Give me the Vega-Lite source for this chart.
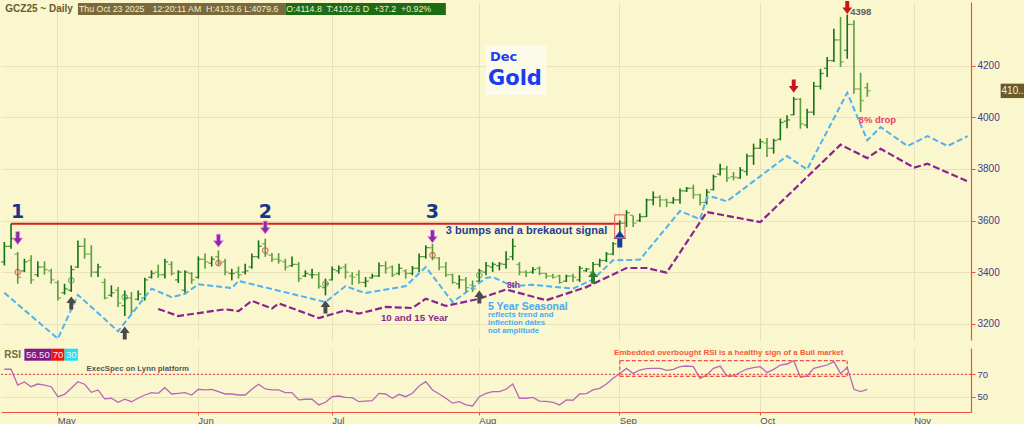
{
"$schema": "https://vega.github.io/schema/vega-lite/v6.json",
"background": "#faf6cd",
"padding": 0,
"spacing": 5,
"config": {"view": {"stroke": null}, "axis": {"labelFont": "Liberation Sans", "gridColor": "#e9e2ba"}},
"resolve": {"scale": {"x": "shared"}},
"datasets": {
"bars": [
{"d":"2025-04-21","o":3440,"h":3517,"l":3426,"c":3500,"rsi":74.5},
{"d":"2025-04-22","o":3500,"h":3588,"l":3491,"c":3530,"rsi":74.5},
{"d":"2025-04-23","o":3470,"h":3478,"l":3355,"c":3380,"rsi":60.4},
{"d":"2025-04-24","o":3405,"h":3452,"l":3400,"c":3440,"rsi":63.1},
{"d":"2025-04-25","o":3445,"h":3465,"l":3355,"c":3370,"rsi":58.9},
{"d":"2025-04-28","o":3390,"h":3442,"l":3381,"c":3420,"rsi":61.3},
{"d":"2025-04-29","o":3420,"h":3442,"l":3390,"c":3410,"rsi":60.4},
{"d":"2025-04-30","o":3405,"h":3413,"l":3355,"c":3370,"rsi":58.9},
{"d":"2025-05-01","o":3360,"h":3368,"l":3290,"c":3300,"rsi":50},
{"d":"2025-05-02","o":3320,"h":3355,"l":3313,"c":3335,"rsi":52.1},
{"d":"2025-05-05","o":3330,"h":3426,"l":3323,"c":3410,"rsi":57.5},
{"d":"2025-05-06","o":3420,"h":3523,"l":3416,"c":3500,"rsi":63.4},
{"d":"2025-05-07","o":3500,"h":3532,"l":3452,"c":3470,"rsi":61.1},
{"d":"2025-05-08","o":3470,"h":3504,"l":3381,"c":3400,"rsi":53.9},
{"d":"2025-05-09","o":3400,"h":3433,"l":3381,"c":3420,"rsi":56},
{"d":"2025-05-12","o":3360,"h":3375,"l":3295,"c":3300,"rsi":48},
{"d":"2025-05-13","o":3310,"h":3349,"l":3304,"c":3320,"rsi":48.6},
{"d":"2025-05-14","o":3330,"h":3342,"l":3265,"c":3280,"rsi":45},
{"d":"2025-05-15","o":3270,"h":3329,"l":3230,"c":3300,"rsi":47.7},
{"d":"2025-05-16","o":3300,"h":3323,"l":3239,"c":3250,"rsi":45.5},
{"d":"2025-05-19","o":3295,"h":3329,"l":3290,"c":3315,"rsi":48.6},
{"d":"2025-05-20","o":3300,"h":3378,"l":3290,"c":3370,"rsi":51.5},
{"d":"2025-05-21","o":3380,"h":3407,"l":3375,"c":3395,"rsi":53.6},
{"d":"2025-05-22","o":3400,"h":3429,"l":3378,"c":3390,"rsi":53},
{"d":"2025-05-23","o":3390,"h":3452,"l":3375,"c":3440,"rsi":58},
{"d":"2025-05-27","o":3430,"h":3442,"l":3387,"c":3395,"rsi":52.4},
{"d":"2025-05-28","o":3370,"h":3407,"l":3358,"c":3400,"rsi":53},
{"d":"2025-05-29","o":3330,"h":3407,"l":3319,"c":3400,"rsi":53.6},
{"d":"2025-05-30","o":3395,"h":3400,"l":3355,"c":3370,"rsi":51.5},
{"d":"2025-06-02","o":3380,"h":3461,"l":3375,"c":3450,"rsi":56.6},
{"d":"2025-06-03","o":3450,"h":3472,"l":3413,"c":3440,"rsi":56},
{"d":"2025-06-04","o":3435,"h":3461,"l":3422,"c":3450,"rsi":56.6},
{"d":"2025-06-05","o":3460,"h":3484,"l":3426,"c":3435,"rsi":54.5},
{"d":"2025-06-06","o":3440,"h":3452,"l":3388,"c":3400,"rsi":52.4},
{"d":"2025-06-09","o":3395,"h":3413,"l":3368,"c":3395,"rsi":52.4},
{"d":"2025-06-10","o":3400,"h":3422,"l":3375,"c":3390,"rsi":51.5},
{"d":"2025-06-11","o":3400,"h":3433,"l":3391,"c":3405,"rsi":51.5},
{"d":"2025-06-12","o":3420,"h":3472,"l":3413,"c":3460,"rsi":56.6},
{"d":"2025-06-13","o":3460,"h":3523,"l":3452,"c":3500,"rsi":61.1},
{"d":"2025-06-16","o":3510,"h":3530,"l":3459,"c":3470,"rsi":56.9},
{"d":"2025-06-17","o":3465,"h":3474,"l":3439,"c":3450,"rsi":56},
{"d":"2025-06-18","o":3450,"h":3474,"l":3433,"c":3445,"rsi":56},
{"d":"2025-06-20","o":3440,"h":3452,"l":3407,"c":3420,"rsi":53.6},
{"d":"2025-06-23","o":3425,"h":3461,"l":3420,"c":3430,"rsi":53.6},
{"d":"2025-06-24","o":3430,"h":3439,"l":3362,"c":3375,"rsi":47.1},
{"d":"2025-06-25","o":3385,"h":3407,"l":3381,"c":3395,"rsi":47.7},
{"d":"2025-06-26","o":3390,"h":3413,"l":3375,"c":3390,"rsi":47.7},
{"d":"2025-06-27","o":3390,"h":3400,"l":3336,"c":3345,"rsi":42.6},
{"d":"2025-06-30","o":3340,"h":3375,"l":3310,"c":3355,"rsi":45},
{"d":"2025-07-01","o":3370,"h":3422,"l":3368,"c":3410,"rsi":50},
{"d":"2025-07-02","o":3405,"h":3426,"l":3394,"c":3415,"rsi":50.6},
{"d":"2025-07-03","o":3420,"h":3433,"l":3375,"c":3400,"rsi":49.4},
{"d":"2025-07-07","o":3385,"h":3400,"l":3350,"c":3380,"rsi":49.1},
{"d":"2025-07-08","o":3390,"h":3407,"l":3355,"c":3360,"rsi":45.5},
{"d":"2025-07-09","o":3360,"h":3381,"l":3342,"c":3365,"rsi":46.1},
{"d":"2025-07-10","o":3378,"h":3394,"l":3375,"c":3385,"rsi":46.4},
{"d":"2025-07-11","o":3385,"h":3437,"l":3381,"c":3425,"rsi":53},
{"d":"2025-07-14","o":3425,"h":3442,"l":3394,"c":3415,"rsi":52.4},
{"d":"2025-07-15","o":3420,"h":3426,"l":3381,"c":3390,"rsi":48.6},
{"d":"2025-07-16","o":3395,"h":3433,"l":3388,"c":3415,"rsi":52.1},
{"d":"2025-07-17","o":3405,"h":3411,"l":3375,"c":3395,"rsi":50},
{"d":"2025-07-18","o":3395,"h":3424,"l":3388,"c":3415,"rsi":53},
{"d":"2025-07-21","o":3415,"h":3472,"l":3401,"c":3460,"rsi":59.5},
{"d":"2025-07-22","o":3460,"h":3504,"l":3452,"c":3495,"rsi":63.4},
{"d":"2025-07-23","o":3495,"h":3510,"l":3446,"c":3455,"rsi":56},
{"d":"2025-07-24","o":3455,"h":3459,"l":3407,"c":3420,"rsi":52.4},
{"d":"2025-07-25","o":3420,"h":3439,"l":3381,"c":3390,"rsi":48.6},
{"d":"2025-07-28","o":3390,"h":3394,"l":3355,"c":3360,"rsi":44.2},
{"d":"2025-07-29","o":3355,"h":3388,"l":3336,"c":3370,"rsi":45.5},
{"d":"2025-07-30","o":3370,"h":3381,"l":3323,"c":3340,"rsi":42.6},
{"d":"2025-07-31","o":3350,"h":3368,"l":3323,"c":3335,"rsi":41.7},
{"d":"2025-08-01","o":3365,"h":3413,"l":3362,"c":3405,"rsi":50},
{"d":"2025-08-04","o":3400,"h":3439,"l":3388,"c":3425,"rsi":53},
{"d":"2025-08-05","o":3420,"h":3439,"l":3401,"c":3430,"rsi":54.5},
{"d":"2025-08-06","o":3425,"h":3439,"l":3407,"c":3432,"rsi":54.5},
{"d":"2025-08-07","o":3430,"h":3481,"l":3413,"c":3450,"rsi":56.6},
{"d":"2025-08-08","o":3460,"h":3530,"l":3446,"c":3500,"rsi":61.3},
{"d":"2025-08-11","o":3430,"h":3439,"l":3388,"c":3400,"rsi":48.6},
{"d":"2025-08-12","o":3400,"h":3407,"l":3381,"c":3398,"rsi":48.6},
{"d":"2025-08-13","o":3400,"h":3420,"l":3394,"c":3410,"rsi":49.4},
{"d":"2025-08-14","o":3415,"h":3422,"l":3388,"c":3395,"rsi":46.1},
{"d":"2025-08-15","o":3395,"h":3397,"l":3375,"c":3385,"rsi":45.8},
{"d":"2025-08-18","o":3385,"h":3394,"l":3375,"c":3380,"rsi":45},
{"d":"2025-08-19","o":3385,"h":3390,"l":3355,"c":3360,"rsi":42.6},
{"d":"2025-08-20","o":3365,"h":3390,"l":3362,"c":3385,"rsi":47.1},
{"d":"2025-08-21","o":3385,"h":3394,"l":3362,"c":3380,"rsi":46.8},
{"d":"2025-08-22","o":3370,"h":3424,"l":3362,"c":3415,"rsi":52.4},
{"d":"2025-08-25","o":3405,"h":3416,"l":3401,"c":3412,"rsi":52.7},
{"d":"2025-08-26","o":3400,"h":3439,"l":3355,"c":3430,"rsi":56},
{"d":"2025-08-27","o":3430,"h":3452,"l":3420,"c":3445,"rsi":57.5},
{"d":"2025-08-28","o":3445,"h":3478,"l":3439,"c":3470,"rsi":61.3},
{"d":"2025-08-29","o":3470,"h":3517,"l":3465,"c":3510,"rsi":66.4},
{"d":"2025-09-02","o":3535,"h":3601,"l":3530,"c":3590,"rsi":70.8},
{"d":"2025-09-03","o":3590,"h":3640,"l":3575,"c":3630,"rsi":75.3},
{"d":"2025-09-04","o":3620,"h":3620,"l":3575,"c":3590,"rsi":70.8},
{"d":"2025-09-05","o":3600,"h":3627,"l":3594,"c":3615,"rsi":73.8},
{"d":"2025-09-08","o":3615,"h":3685,"l":3614,"c":3680,"rsi":75},
{"d":"2025-09-09","o":3680,"h":3713,"l":3659,"c":3690,"rsi":75.3},
{"d":"2025-09-10","o":3690,"h":3698,"l":3652,"c":3680,"rsi":75.3},
{"d":"2025-09-11","o":3680,"h":3685,"l":3652,"c":3670,"rsi":73.5},
{"d":"2025-09-12","o":3670,"h":3691,"l":3665,"c":3680,"rsi":74.4},
{"d":"2025-09-15","o":3680,"h":3724,"l":3665,"c":3715,"rsi":76.8},
{"d":"2025-09-16","o":3715,"h":3730,"l":3711,"c":3725,"rsi":77.4},
{"d":"2025-09-17","o":3725,"h":3739,"l":3685,"c":3700,"rsi":76.8},
{"d":"2025-09-18","o":3700,"h":3704,"l":3659,"c":3670,"rsi":66.4},
{"d":"2025-09-19","o":3670,"h":3722,"l":3662,"c":3710,"rsi":69.4},
{"d":"2025-09-22","o":3720,"h":3778,"l":3717,"c":3770,"rsi":75.3},
{"d":"2025-09-23","o":3780,"h":3820,"l":3775,"c":3800,"rsi":77.4},
{"d":"2025-09-24","o":3800,"h":3811,"l":3749,"c":3765,"rsi":68.5},
{"d":"2025-09-25","o":3770,"h":3788,"l":3756,"c":3768,"rsi":68.5},
{"d":"2025-09-26","o":3765,"h":3807,"l":3762,"c":3795,"rsi":71.8},
{"d":"2025-09-29","o":3790,"h":3859,"l":3775,"c":3850,"rsi":74.7},
{"d":"2025-09-30","o":3850,"h":3898,"l":3816,"c":3880,"rsi":75.9},
{"d":"2025-10-01","o":3880,"h":3917,"l":3878,"c":3905,"rsi":76.8},
{"d":"2025-10-02","o":3900,"h":3920,"l":3846,"c":3880,"rsi":71.5},
{"d":"2025-10-03","o":3880,"h":3917,"l":3859,"c":3910,"rsi":74.4},
{"d":"2025-10-06","o":3915,"h":3995,"l":3911,"c":3980,"rsi":78.3},
{"d":"2025-10-07","o":3985,"h":4008,"l":3958,"c":3990,"rsi":79.2},
{"d":"2025-10-08","o":4010,"h":4079,"l":4008,"c":4070,"rsi":82.2},
{"d":"2025-10-09","o":4070,"h":4075,"l":3956,"c":3975,"rsi":67.3},
{"d":"2025-10-10","o":3970,"h":4033,"l":3958,"c":4020,"rsi":68.5},
{"d":"2025-10-13","o":4020,"h":4137,"l":4008,"c":4120,"rsi":75.3},
{"d":"2025-10-14","o":4120,"h":4188,"l":4108,"c":4170,"rsi":76.8},
{"d":"2025-10-15","o":4190,"h":4234,"l":4156,"c":4220,"rsi":78.3},
{"d":"2025-10-16","o":4220,"h":4343,"l":4214,"c":4300,"rsi":81.3},
{"d":"2025-10-17","o":4300,"h":4389,"l":4195,"c":4215,"rsi":70.8},
{"d":"2025-10-20","o":4260,"h":4398,"l":4227,"c":4360,"rsi":76.2},
{"d":"2025-10-21","o":4360,"h":4376,"l":4091,"c":4110,"rsi":56.6},
{"d":"2025-10-22","o":4110,"h":4173,"l":4020,"c":4065,"rsi":54.5},
{"d":"2025-10-23","o":4114.8,"h":4133.6,"l":4079.6,"c":4102.6,"rsi":56.5}
]
},
"vconcat": [
{
"width": 970,
"height": 338,
"layer": [
{"data": {"name": "bars"},
 "mark": {"type": "rule", "strokeWidth": 1.6},
 "encoding": {
  "x": {"field": "d", "type": "ordinal",
   "scale": {"type": "band", "paddingInner": 0, "paddingOuter": 0,
    "domain": ["2025-04-21","2025-04-22","2025-04-23","2025-04-24","2025-04-25","2025-04-28","2025-04-29","2025-04-30","2025-05-01","2025-05-02","2025-05-05","2025-05-06","2025-05-07","2025-05-08","2025-05-09","2025-05-12","2025-05-13","2025-05-14","2025-05-15","2025-05-16","2025-05-19","2025-05-20","2025-05-21","2025-05-22","2025-05-23","2025-05-27","2025-05-28","2025-05-29","2025-05-30","2025-06-02","2025-06-03","2025-06-04","2025-06-05","2025-06-06","2025-06-09","2025-06-10","2025-06-11","2025-06-12","2025-06-13","2025-06-16","2025-06-17","2025-06-18","2025-06-20","2025-06-23","2025-06-24","2025-06-25","2025-06-26","2025-06-27","2025-06-30","2025-07-01","2025-07-02","2025-07-03","2025-07-07","2025-07-08","2025-07-09","2025-07-10","2025-07-11","2025-07-14","2025-07-15","2025-07-16","2025-07-17","2025-07-18","2025-07-21","2025-07-22","2025-07-23","2025-07-24","2025-07-25","2025-07-28","2025-07-29","2025-07-30","2025-07-31","2025-08-01","2025-08-04","2025-08-05","2025-08-06","2025-08-07","2025-08-08","2025-08-11","2025-08-12","2025-08-13","2025-08-14","2025-08-15","2025-08-18","2025-08-19","2025-08-20","2025-08-21","2025-08-22","2025-08-25","2025-08-26","2025-08-27","2025-08-28","2025-08-29","2025-09-02","2025-09-03","2025-09-04","2025-09-05","2025-09-08","2025-09-09","2025-09-10","2025-09-11","2025-09-12","2025-09-15","2025-09-16","2025-09-17","2025-09-18","2025-09-19","2025-09-22","2025-09-23","2025-09-24","2025-09-25","2025-09-26","2025-09-29","2025-09-30","2025-10-01","2025-10-02","2025-10-03","2025-10-06","2025-10-07","2025-10-08","2025-10-09","2025-10-10","2025-10-13","2025-10-14","2025-10-15","2025-10-16","2025-10-17","2025-10-20","2025-10-21","2025-10-22","2025-10-23","2025-10-24","2025-10-27","2025-10-28","2025-10-29","2025-10-30","2025-10-31","2025-11-03","2025-11-04","2025-11-05","2025-11-06","2025-11-07","2025-11-10","2025-11-11","2025-11-12","2025-11-13"]},
   "axis": {"title": null, "labels": false, "ticks": false, "domain": false, "grid": true, "gridColor": "#e9e2ba",
    "values": ["2025-05-01","2025-06-02","2025-07-01","2025-08-01","2025-09-02","2025-10-01","2025-11-03"]}},
  "y": {"field": "l", "type": "quantitative",
   "scale": {"domain": [3137, 4447], "zero": false, "nice": false},
   "axis": {"orient": "right", "title": null, "values": [3200,3300,3400,3500,3600,3700,3800,3900,4000,4100,4200,4300],
    "format": "d", "labelOverlap": false,
    "grid": true, "gridColor": "#e9e2ba", "domainColor": "#f0533c", "domainWidth": 1.2, "tickColor": "#f0533c", "tickSize": 4,
    "labelColor": "#3b3b8f", "labelFontSize": 10, "labelPadding": 2}},
  "y2": {"field": "h"},
  "color": {"condition": {"test": "datum.c >= datum.o", "value": "#137313"}, "value": "#5b9e3c"}
 }},
{"data": {"name": "bars"},
 "mark": {"type": "tick", "size": 3, "thickness": 1.3, "xOffset": -1.8},
 "encoding": {"x": {"field": "d", "type": "ordinal"}, "y": {"field": "o", "type": "quantitative"},
  "color": {"condition": {"test": "datum.c >= datum.o", "value": "#137313"}, "value": "#5b9e3c"}}},
{"data": {"name": "bars"},
 "mark": {"type": "tick", "size": 3, "thickness": 1.3, "xOffset": 1.8},
 "encoding": {"x": {"field": "d", "type": "ordinal"}, "y": {"field": "c", "type": "quantitative"},
  "color": {"condition": {"test": "datum.c >= datum.o", "value": "#137313"}, "value": "#5b9e3c"}}},
{"data": {"values": [
 {"d":"2025-04-21","p":3320},{"d":"2025-05-01","p":3142},{"d":"2025-05-06","p":3312},{"d":"2025-05-14","p":3171},
 {"d":"2025-05-21","p":3336},{"d":"2025-05-27","p":3303},{"d":"2025-05-29","p":3316},{"d":"2025-06-02","p":3353},
 {"d":"2025-06-09","p":3338},{"d":"2025-06-10","p":3366},{"d":"2025-06-30","p":3284},{"d":"2025-07-03","p":3346},
 {"d":"2025-07-08","p":3327},{"d":"2025-07-09","p":3319},{"d":"2025-07-17","p":3346},{"d":"2025-07-22","p":3420},
 {"d":"2025-07-28","p":3284},{"d":"2025-08-04","p":3377},{"d":"2025-08-05","p":3381},{"d":"2025-08-08","p":3346},
 {"d":"2025-08-13","p":3351},{"d":"2025-08-21","p":3336},{"d":"2025-08-26","p":3372},{"d":"2025-08-29","p":3446},
 {"d":"2025-09-05","p":3448},{"d":"2025-09-15","p":3637},{"d":"2025-09-18","p":3605},{"d":"2025-09-19","p":3689},
 {"d":"2025-09-22","p":3691},{"d":"2025-09-24","p":3674},{"d":"2025-10-07","p":3850},{"d":"2025-10-10","p":3798},
 {"d":"2025-10-20","p":4095},{"d":"2025-10-23","p":3911},{"d":"2025-10-27","p":3962},{"d":"2025-10-31","p":3889},
 {"d":"2025-11-05","p":3927},{"d":"2025-11-10","p":3889},{"d":"2025-11-13","p":3927}]},
 "mark": {"type": "line", "color": "#4db3f2", "strokeWidth": 2, "strokeDash": [6, 3]},
 "encoding": {"x": {"field": "d", "type": "ordinal"}, "y": {"field": "p", "type": "quantitative"}}},
{"data": {"values": [
 {"d":"2025-05-22","p":3257},{"d":"2025-05-28","p":3230},{"d":"2025-06-06","p":3256},{"d":"2025-06-10","p":3249},
 {"d":"2025-06-12","p":3289},{"d":"2025-06-17","p":3259},{"d":"2025-06-18","p":3279},{"d":"2025-06-27","p":3222},
 {"d":"2025-07-03","p":3252},{"d":"2025-07-08","p":3239},{"d":"2025-07-14","p":3265},{"d":"2025-07-18","p":3261},
 {"d":"2025-07-22","p":3297},{"d":"2025-07-25","p":3269},{"d":"2025-08-01","p":3297},{"d":"2025-08-07","p":3333},
 {"d":"2025-08-15","p":3291},{"d":"2025-08-25","p":3342},{"d":"2025-09-03","p":3416},{"d":"2025-09-08","p":3416},
 {"d":"2025-09-11","p":3398},{"d":"2025-09-19","p":3633},{"d":"2025-10-01","p":3594},{"d":"2025-10-17","p":3894},
 {"d":"2025-10-23","p":3842},{"d":"2025-10-27","p":3878},{"d":"2025-11-03","p":3805},{"d":"2025-11-05","p":3820},
 {"d":"2025-11-13","p":3752}]},
 "mark": {"type": "line", "color": "#8a2391", "strokeWidth": 2.2, "strokeDash": [7, 3]},
 "encoding": {"x": {"field": "d", "type": "ordinal"}, "y": {"field": "p", "type": "quantitative"}}},
{"data": {"values": [{"d": "2025-04-22", "d2": "2025-09-02", "p": 3588}]},
 "mark": {"type": "rule", "color": "#d81b1b", "strokeWidth": 2},
 "encoding": {"x": {"field": "d", "type": "ordinal"}, "x2": {"field": "d2"}, "y": {"field": "p", "type": "quantitative"}}},
{"data": {"values": [{"d": "2025-08-04", "d2": "2025-08-15", "p": 4183}]},
 "mark": {"type": "rule", "color": "#fcfbea", "strokeWidth": 50, "strokeCap": "butt"},
 "encoding": {"x": {"field": "d", "type": "ordinal"}, "x2": {"field": "d2"}, "y": {"field": "p", "type": "quantitative"}}},
{"data": {"values": [{"d": "2025-05-06", "d2": "2025-06-20", "p": 4420}]},
 "mark": {"type": "rule", "color": "#7a6a3b", "strokeWidth": 12, "strokeCap": "butt"},
 "encoding": {"x": {"field": "d", "type": "ordinal"}, "x2": {"field": "d2"}, "y": {"field": "p", "type": "quantitative"}}},
{"data": {"values": [{"d": "2025-06-20", "d2": "2025-07-25", "p": 4420}]},
 "mark": {"type": "rule", "color": "#1d6b12", "strokeWidth": 12, "strokeCap": "butt"},
 "encoding": {"x": {"field": "d", "type": "ordinal"}, "x2": {"field": "d2"}, "y": {"field": "p", "type": "quantitative"}}},
{"data": {"values": [{"d":"2025-04-23","p":3400},{"d":"2025-06-05","p":3435},{"d":"2025-06-16","p":3484},{"d":"2025-07-23","p":3466}]},
 "mark": {"type": "point", "shape": "circle", "filled": false, "size": 30, "stroke": "#e23b3b", "strokeWidth": 1.2},
 "encoding": {"x": {"field": "d", "type": "ordinal"}, "y": {"field": "p", "type": "quantitative"}}},
{"data": {"values": [{"d":"2025-05-05","p":3368},{"d":"2025-05-15","p":3303},{"d":"2025-06-30","p":3355},{"d":"2025-08-01","p":3388}]},
 "mark": {"type": "point", "shape": "circle", "filled": false, "size": 30, "stroke": "#3c9a3c", "strokeWidth": 1.2},
 "encoding": {"x": {"field": "d", "type": "ordinal"}, "y": {"field": "p", "type": "quantitative"}}},
{"data": {"values": [{"d":"2025-04-23","p":3532},{"d":"2025-06-05","p":3522},{"d":"2025-06-16","p":3573},{"d":"2025-07-23","p":3538}]},
 "mark": {"type": "point", "shape": "M-0.3,-1L0.3,-1L0.3,0L0.75,0L0,1L-0.75,0L-0.3,0Z", "size": 170, "filled": true, "fill": "#8c2aa0", "stroke": "#e99bef", "strokeWidth": 0.8, "opacity": 1},
 "encoding": {"x": {"field": "d", "type": "ordinal"}, "y": {"field": "p", "type": "quantitative"}}},
{"data": {"values": [{"d":"2025-05-05","p":3280},{"d":"2025-05-15","p":3164},{"d":"2025-06-30","p":3265},{"d":"2025-08-01","p":3304}]},
 "mark": {"type": "point", "shape": "M-0.3,1L0.3,1L0.3,0L0.75,0L0,-1L-0.75,0L-0.3,0Z", "size": 170, "filled": true, "fill": "#4a4a4a", "strokeWidth": 0, "opacity": 1},
 "encoding": {"x": {"field": "d", "type": "ordinal"}, "y": {"field": "p", "type": "quantitative"}}},
{"data": {"values": [{"d":"2025-08-26","p":3381}]},
 "mark": {"type": "point", "shape": "M-0.3,1L0.3,1L0.3,0L0.75,0L0,-1L-0.75,0L-0.3,0Z", "size": 170, "filled": true, "fill": "#2f7d32", "strokeWidth": 0, "opacity": 1},
 "encoding": {"x": {"field": "d", "type": "ordinal"}, "y": {"field": "p", "type": "quantitative"}}},
{"data": {"values": [{"d":"2025-09-02","p":3528}]},
 "mark": {"type": "point", "shape": "M-0.3,1L0.3,1L0.3,0L0.75,0L0,-1L-0.75,0L-0.3,0Z", "size": 280, "filled": true, "fill": "#1b3b9c", "strokeWidth": 0, "opacity": 1},
 "encoding": {"x": {"field": "d", "type": "ordinal"}, "y": {"field": "p", "type": "quantitative"}}},
{"data": {"values": [{"d":"2025-10-08","p":4121},{"d":"2025-10-20","p":4426}]},
 "mark": {"type": "point", "shape": "M-0.3,-1L0.3,-1L0.3,0L0.75,0L0,1L-0.75,0L-0.3,0Z", "size": 170, "filled": true, "fill": "#c8161b", "strokeWidth": 0, "opacity": 1},
 "encoding": {"x": {"field": "d", "type": "ordinal"}, "y": {"field": "p", "type": "quantitative"}}},
{"data": {"values": [{"d":"2025-09-02","p":3577}]},
 "mark": {"type": "point", "shape": "M-0.45,-1L0.45,-1L0.45,1L-0.45,1Z", "size": 529, "filled": false, "stroke": "#e8706a", "strokeWidth": 1.2, "opacity": 1},
 "encoding": {"x": {"field": "d", "type": "ordinal"}, "y": {"field": "p", "type": "quantitative"}}},
{"data": {"values": [{"d":"2025-04-21","p":4420,"t":"GCZ25 ~ Daily"}]},
 "mark": {"type": "text", "align": "left", "baseline": "middle", "font": "Liberation Sans", "fontWeight": "bold", "fontSize": 10, "color": "#6b5b30", "dx": 1},
 "encoding": {"x": {"field": "d", "type": "ordinal"}, "y": {"field": "p", "type": "quantitative"}, "text": {"field": "t"}}},
{"data": {"values": [
 {"d":"2025-05-06","p":4420,"t":"Thu Oct 23 2025"},
 {"d":"2025-05-21","p":4420,"t":"12:20:11 AM"},
 {"d":"2025-06-03","p":4420,"t":"H:4133.6 L:4079.6"},
 {"d":"2025-06-20","p":4420,"t":"O:4114.8"},
 {"d":"2025-06-30","p":4420,"t":"T:4102.6 D\u00a0 +37.2\u00a0 +0.92%"}]},
 "mark": {"type": "text", "align": "left", "baseline": "middle", "font": "Liberation Sans", "fontSize": 8.8, "color": "#f2ecd2", "dx": 1},
 "encoding": {"x": {"field": "d", "type": "ordinal"}, "y": {"field": "p", "type": "quantitative"}, "text": {"field": "t"}}},
{"data": {"values": [{"d":"2025-04-23","p":3633,"t":"1"},{"d":"2025-06-16","p":3633,"t":"2"},{"d":"2025-07-23","p":3633,"t":"3"}]},
 "mark": {"type": "text", "align": "center", "baseline": "middle", "font": "DejaVu Sans", "fontWeight": "bold", "fontSize": 19, "color": "#17358c"},
 "encoding": {"x": {"field": "d", "type": "ordinal"}, "y": {"field": "p", "type": "quantitative"}, "text": {"field": "t"}}},
{"data": {"values": [{"d":"2025-07-25","p":3559,"t":"3 bumps and a brekaout signal"}]},
 "mark": {"type": "text", "align": "left", "baseline": "middle", "font": "Liberation Sans", "fontWeight": "bold", "fontSize": 11, "color": "#1d3d94"},
 "encoding": {"x": {"field": "d", "type": "ordinal"}, "y": {"field": "p", "type": "quantitative"}, "text": {"field": "t"}}},
{"data": {"values": [{"d":"2025-08-04","p":4234,"t":"Dec"}]},
 "mark": {"type": "text", "align": "left", "baseline": "middle", "font": "DejaVu Sans", "fontWeight": "bold", "fontSize": 13, "color": "#1b3df2", "dx": 4},
 "encoding": {"x": {"field": "d", "type": "ordinal"}, "y": {"field": "p", "type": "quantitative"}, "text": {"field": "t"}}},
{"data": {"values": [{"d":"2025-08-04","p":4150,"t":"Gold"}]},
 "mark": {"type": "text", "align": "left", "baseline": "middle", "font": "DejaVu Sans", "fontWeight": "bold", "fontSize": 21, "color": "#1b3df2", "dx": 2},
 "encoding": {"x": {"field": "d", "type": "ordinal"}, "y": {"field": "p", "type": "quantitative"}, "text": {"field": "t"}}},
{"data": {"values": [{"d":"2025-10-20","p":4408,"t":"4398"}]},
 "mark": {"type": "text", "align": "left", "baseline": "middle", "font": "Liberation Sans", "fontWeight": "bold", "fontSize": 9.5, "color": "#5f5f5f", "dx": 3},
 "encoding": {"x": {"field": "d", "type": "ordinal"}, "y": {"field": "p", "type": "quantitative"}, "text": {"field": "t"}}},
{"data": {"values": [{"d":"2025-10-22","p":3990,"t":"8% drop"}]},
 "mark": {"type": "text", "align": "left", "baseline": "middle", "font": "Liberation Sans", "fontWeight": "bold", "fontSize": 9.5, "color": "#ee3a6c", "dx": -2},
 "encoding": {"x": {"field": "d", "type": "ordinal"}, "y": {"field": "p", "type": "quantitative"}, "text": {"field": "t"}}},
{"data": {"values": [{"d":"2025-08-04","p":3266,"t":"5 Year Seasonal"}]},
 "mark": {"type": "text", "align": "left", "baseline": "middle", "font": "Liberation Sans", "fontWeight": "bold", "fontSize": 10.5, "color": "#4aa9f0", "dx": 2},
 "encoding": {"x": {"field": "d", "type": "ordinal"}, "y": {"field": "p", "type": "quantitative"}, "text": {"field": "t"}}},
{"data": {"values": [{"d":"2025-08-04","p":3232,"t":"reflects trend and"},{"d":"2025-08-04","p":3201,"t":"inflection dates"},{"d":"2025-08-04","p":3170,"t":"not amplitude"}]},
 "mark": {"type": "text", "align": "left", "baseline": "middle", "font": "Liberation Sans", "fontWeight": "bold", "fontSize": 7.8, "color": "#4aa9f0", "dx": 2},
 "encoding": {"x": {"field": "d", "type": "ordinal"}, "y": {"field": "p", "type": "quantitative"}, "text": {"field": "t"}}},
{"data": {"values": [{"d":"2025-07-11","p":3222,"t":"10 and 15 Year"}]},
 "mark": {"type": "text", "align": "left", "baseline": "middle", "font": "Liberation Sans", "fontWeight": "bold", "fontSize": 9.7, "color": "#8b2a8b", "dx": 2},
 "encoding": {"x": {"field": "d", "type": "ordinal"}, "y": {"field": "p", "type": "quantitative"}, "text": {"field": "t"}}},
{"data": {"values": [{"d":"2025-08-07","p":3351,"t":"8th"}]},
 "mark": {"type": "text", "align": "left", "baseline": "middle", "font": "Liberation Sans", "fontWeight": "bold", "fontSize": 8.5, "color": "#8b2a8b", "dx": 1},
 "encoding": {"x": {"field": "d", "type": "ordinal"}, "y": {"field": "p", "type": "quantitative"}, "text": {"field": "t"}}},
{"data": {"values": [{"d":"2025-11-13","p":4102.6}]},
 "mark": {"type": "point", "shape": "M-1,-0.6L1,-0.6L1,0.6L-1,0.6Z", "size": 576, "filled": true, "fill": "#6a5a2a", "strokeWidth": 0, "opacity": 1, "xOffset": 45},
 "encoding": {"x": {"field": "d", "type": "ordinal"}, "y": {"field": "p", "type": "quantitative"}}},
{"data": {"values": [{"d":"2025-11-13","p":4102.6,"t":"410.."}]},
 "mark": {"type": "text", "align": "center", "baseline": "middle", "font": "Liberation Sans", "fontSize": 10, "color": "#f3efdc", "dx": 45},
 "encoding": {"x": {"field": "d", "type": "ordinal"}, "y": {"field": "p", "type": "quantitative"}, "text": {"field": "t"}}}
]
},
{
"width": 970,
"height": 64,
"layer": [
{"data": {"name": "bars"},
 "mark": {"type": "line", "color": "#b868b9", "strokeWidth": 1.3},
 "encoding": {
  "x": {"field": "d", "type": "ordinal",
   "scale": {"type": "band", "paddingInner": 0, "paddingOuter": 0,
    "domain": ["2025-04-21","2025-04-22","2025-04-23","2025-04-24","2025-04-25","2025-04-28","2025-04-29","2025-04-30","2025-05-01","2025-05-02","2025-05-05","2025-05-06","2025-05-07","2025-05-08","2025-05-09","2025-05-12","2025-05-13","2025-05-14","2025-05-15","2025-05-16","2025-05-19","2025-05-20","2025-05-21","2025-05-22","2025-05-23","2025-05-27","2025-05-28","2025-05-29","2025-05-30","2025-06-02","2025-06-03","2025-06-04","2025-06-05","2025-06-06","2025-06-09","2025-06-10","2025-06-11","2025-06-12","2025-06-13","2025-06-16","2025-06-17","2025-06-18","2025-06-20","2025-06-23","2025-06-24","2025-06-25","2025-06-26","2025-06-27","2025-06-30","2025-07-01","2025-07-02","2025-07-03","2025-07-07","2025-07-08","2025-07-09","2025-07-10","2025-07-11","2025-07-14","2025-07-15","2025-07-16","2025-07-17","2025-07-18","2025-07-21","2025-07-22","2025-07-23","2025-07-24","2025-07-25","2025-07-28","2025-07-29","2025-07-30","2025-07-31","2025-08-01","2025-08-04","2025-08-05","2025-08-06","2025-08-07","2025-08-08","2025-08-11","2025-08-12","2025-08-13","2025-08-14","2025-08-15","2025-08-18","2025-08-19","2025-08-20","2025-08-21","2025-08-22","2025-08-25","2025-08-26","2025-08-27","2025-08-28","2025-08-29","2025-09-02","2025-09-03","2025-09-04","2025-09-05","2025-09-08","2025-09-09","2025-09-10","2025-09-11","2025-09-12","2025-09-15","2025-09-16","2025-09-17","2025-09-18","2025-09-19","2025-09-22","2025-09-23","2025-09-24","2025-09-25","2025-09-26","2025-09-29","2025-09-30","2025-10-01","2025-10-02","2025-10-03","2025-10-06","2025-10-07","2025-10-08","2025-10-09","2025-10-10","2025-10-13","2025-10-14","2025-10-15","2025-10-16","2025-10-17","2025-10-20","2025-10-21","2025-10-22","2025-10-23","2025-10-24","2025-10-27","2025-10-28","2025-10-29","2025-10-30","2025-10-31","2025-11-03","2025-11-04","2025-11-05","2025-11-06","2025-11-07","2025-11-10","2025-11-11","2025-11-12","2025-11-13"]},
   "axis": {"title": null, "grid": true, "gridColor": "#e9e2ba",
    "values": ["2025-05-01","2025-06-02","2025-07-01","2025-08-01","2025-09-02","2025-10-01","2025-11-03"],
    "labelExpr": "utcFormat(toDate(datum.value), '%b')", "labelAngle": 0, "labelBaseline": "top", "labelOverlap": false,
    "domainColor": "#f0533c", "tickColor": "#f0533c", "tickSize": 3, "labelAlign": "left", "labelPadding": 0,
    "labelColor": "#4d4d6a", "labelFontSize": 9.5}},
  "y": {"field": "rsi", "type": "quantitative",
   "scale": {"domain": [36.3, 93.5], "zero": false, "nice": false},
   "axis": {"orient": "right", "title": null, "values": [50, 60, 70], "labelOverlap": false, "labelBound": false, "labelFlush": false, "grid": true, "gridColor": "#e9e2ba",
    "domainColor": "#f0533c", "domainWidth": 1.2, "tickColor": "#f0533c", "tickSize": 4,
    "labelColor": "#3b3b8f", "labelFontSize": 9.5, "labelPadding": 2}}
 }},
{"data": {"values": [{"v": 70}]},
 "mark": {"type": "rule", "color": "#ef3b3b", "strokeWidth": 1, "strokeDash": [2, 2]},
 "encoding": {"y": {"field": "v", "type": "quantitative"}}},
{"data": {"values": [{"d":"2025-09-02","d2":"2025-10-20","v":82.2},{"d":"2025-09-02","d2":"2025-10-20","v":68.2}]},
 "mark": {"type": "rule", "color": "#f0524a", "strokeWidth": 1.2, "strokeDash": [4, 2]},
 "encoding": {"x": {"field": "d", "type": "ordinal"}, "x2": {"field": "d2"}, "y": {"field": "v", "type": "quantitative"}}},
{"data": {"values": [{"d":"2025-09-02","v":68.2,"v2":82.2},{"d":"2025-10-20","v":68.2,"v2":82.2}]},
 "mark": {"type": "rule", "color": "#f0524a", "strokeWidth": 1.2, "strokeDash": [4, 2]},
 "encoding": {"x": {"field": "d", "type": "ordinal"}, "y": {"field": "v", "type": "quantitative"}, "y2": {"field": "v2"}}},
{"data": {"values": [{"d":"2025-04-24","d2":"2025-04-30","v":87.5}]},
 "mark": {"type": "rule", "color": "#7f1a80", "strokeWidth": 12, "strokeCap": "butt"},
 "encoding": {"x": {"field": "d", "type": "ordinal"}, "x2": {"field": "d2"}, "y": {"field": "v", "type": "quantitative"}}},
{"data": {"values": [{"d":"2025-04-30","d2":"2025-05-02","v":87.5}]},
 "mark": {"type": "rule", "color": "#ee1111", "strokeWidth": 12, "strokeCap": "butt"},
 "encoding": {"x": {"field": "d", "type": "ordinal"}, "x2": {"field": "d2"}, "y": {"field": "v", "type": "quantitative"}}},
{"data": {"values": [{"d":"2025-05-02","d2":"2025-05-06","v":87.5}]},
 "mark": {"type": "rule", "color": "#22e0f2", "strokeWidth": 12, "strokeCap": "butt"},
 "encoding": {"x": {"field": "d", "type": "ordinal"}, "x2": {"field": "d2"}, "y": {"field": "v", "type": "quantitative"}}},
{"data": {"values": [{"d":"2025-04-21","v":87.5,"t":"RSI"}]},
 "mark": {"type": "text", "align": "left", "baseline": "middle", "font": "Liberation Sans", "fontWeight": "bold", "fontSize": 10, "color": "#7a6a3b"},
 "encoding": {"x": {"field": "d", "type": "ordinal"}, "y": {"field": "v", "type": "quantitative"}, "text": {"field": "t"}}},
{"data": {"values": [{"d":"2025-04-24","v":87.5,"t":"56.50"},{"d":"2025-04-30","v":87.5,"t":"70"},{"d":"2025-05-02","v":87.5,"t":"30"}]},
 "mark": {"type": "text", "align": "left", "baseline": "middle", "font": "Liberation Sans", "fontSize": 9.5, "color": "#fbeafb", "dx": 1.5},
 "encoding": {"x": {"field": "d", "type": "ordinal"}, "y": {"field": "v", "type": "quantitative"}, "text": {"field": "t"}}},
{"data": {"values": [{"d":"2025-05-07","v":74.8,"t":"ExecSpec on Lynn platform"}]},
 "mark": {"type": "text", "align": "left", "baseline": "middle", "font": "Liberation Sans", "fontWeight": "bold", "fontSize": 7.8, "color": "#555555", "dx": 2},
 "encoding": {"x": {"field": "d", "type": "ordinal"}, "y": {"field": "v", "type": "quantitative"}, "text": {"field": "t"}}},
{"data": {"values": [{"d":"2025-08-29","v":89.3,"t":"Embedded overbought RSI is a healthy sign of a Bull market"}]},
 "mark": {"type": "text", "align": "left", "baseline": "middle", "font": "Liberation Sans", "fontWeight": "bold", "fontSize": 8, "color": "#f25a3a", "dx": 1},
 "encoding": {"x": {"field": "d", "type": "ordinal"}, "y": {"field": "v", "type": "quantitative"}, "text": {"field": "t"}}}
]
}
]
}
